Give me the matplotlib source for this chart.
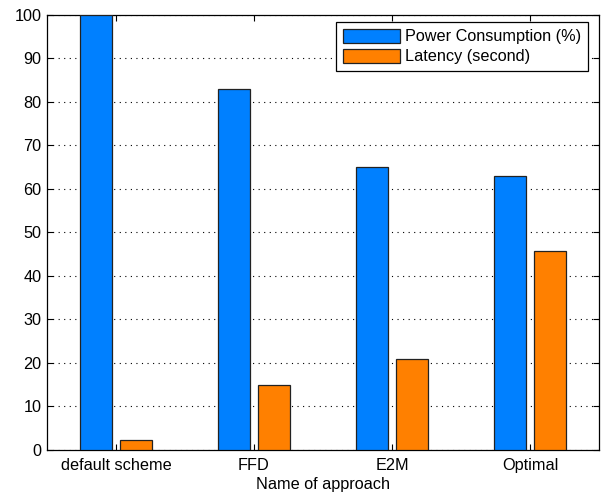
import matplotlib
matplotlib.use("Agg")
import matplotlib.pyplot as plt
import numpy as np

plt.rcParams['font.family'] = ['Liberation Sans', 'DejaVu Sans']

categories = ["default scheme", "FFD", "E2M", "Optimal"]
power = [100, 82.9, 65.1, 63.0]
latency = [2.4, 14.9, 20.8, 45.8]
series_names = ["Power Consumption (%)", "Latency (second)"]
yticks = list(range(0, 101, 10))

fs = 11.7

fig = plt.figure(figsize=(6.04, 4.94), dpi=100)
ax = fig.add_axes([0.0778, 0.0891, 0.9139, 0.8811])

x = np.arange(1, len(categories) + 1)
w = 0.229
off = 0.145
ax.bar(x - off, power, w, color="#0080FF", edgecolor="#222222", linewidth=0.9,
       label=series_names[0], zorder=3)
ax.bar(x + off, latency, w, color="#FF8000", edgecolor="#222222", linewidth=0.9,
       label=series_names[1], zorder=3)

ax.set_xlim(0.5, 4.5)
ax.set_ylim(0, 100)
ax.set_xticks(x)
ax.set_xticklabels(categories)
ax.set_yticks(yticks)
ax.tick_params(direction="in", top=True, right=True, labelsize=fs, length=4,
               width=0.8, pad=4)
ax.tick_params(axis="x", pad=6)
ax.yaxis.grid(True, linestyle=(0, (1, 4)), color="black", linewidth=0.8)
ax.set_axisbelow(True)
for s in ax.spines.values():
    s.set_linewidth(0.9)
ax.set_xlabel("Name of approach", fontsize=fs, labelpad=3)

leg = ax.legend(loc="upper right", bbox_to_anchor=(0.98, 0.983), borderaxespad=0,
                fontsize=fs, fancybox=False, framealpha=1, edgecolor="black",
                handlelength=3.5, handleheight=1.0, handletextpad=0.35,
                labelspacing=0.25, borderpad=0.4)
leg.get_frame().set_linewidth(0.9)

fig.savefig("out.png", dpi=100)
